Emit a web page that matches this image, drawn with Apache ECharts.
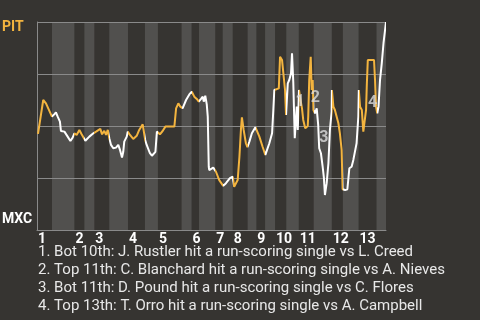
<!DOCTYPE html>
<html>
<head>
<meta charset="utf-8">
<script src="https://cdn.jsdelivr.net/npm/echarts@6/dist/echarts.min.js"></script>
<style>html,body{margin:0;padding:0;background:#363431;}#c{width:480px;height:320px;}</style>
</head>
<body>
<div id="c"></div>
<script>
// Half-inning boundaries, in game-event units (top half = PIT batting, bottom half = MXC batting)
const halfInningBounds = [0,6,15,19,23,29,36.5,43.3,48.5,58,62,65,71.5,74.5,78.5,84.5,88,91.5,95.5,100,105,111,118.25,122.7,129,136.2,140];
const inningLabels = ['1','2','3','4','5','6','7','8','9','10','11','12','13'];
// PIT win probability (%) by game event
const eventX = [0.4,2.5,3.6,6.0,6.9,7.6,8.3,9.2,9.6,11.0,12.3,13.4,14.3,15.0,15.9,17.0,17.9,19.4,21.0,22.6,23.7,24.4,25.4,26.1,27.0,27.7,28.4,29.0,29.7,30.6,31.7,32.6,33.3,34.1,34.6,35.0,36.0,36.4,37.3,38.6,40.0,41.0,42.4,43.4,44.0,45.3,46.1,47.5,48.1,48.6,49.3,50.4,51.5,55.1,55.8,56.7,57.5,58.4,59.8,61.1,62.1,63.1,64.1,64.9,65.8,66.5,66.9,67.5,68.1,68.5,68.9,69.1,70.7,71.8,73.1,74.7,75.8,77.4,78.5,79.1,79.8,80.5,81.2,81.8,82.2,82.9,83.8,84.4,85.2,86.2,87.6,88.1,89.2,90.5,91.6,92.1,93.2,94.3,94.8,95.2,95.9,97.0,97.5,98.3,98.8,99.5,99.9,100.2,100.6,101.2,101.9,102.3,102.8,103.4,103.9,104.2,104.6,104.8,105.1,105.6,106.3,106.8,107.6,108.6,108.8,109.2,109.8,110.2,110.6,110.9,111.5,112.2,112.8,113.2,113.9,114.6,115.1,115.5,116.2,116.9,117.5,118.2,118.3,118.9,119.5,120.2,120.9,121.5,122.2,122.6,123.6,124.5,125.3,126.2,126.9,127.6,128.2,128.9,129.1,129.6,130.3,130.9,131.6,132.0,132.3,132.7,135.2,135.6,136.0,136.5,137.0,137.6,138.3,139.0,140];
const pitWinProb = [46.2,62.5,60.9,54.5,55.6,56.6,54.5,52.1,47.6,47.3,44.9,42.8,44.4,46.5,45.7,48.1,46.0,42.9,44.9,46.5,47.3,47.7,48.6,46.0,47.7,45.7,48.1,44.1,40.9,39.3,39.6,40.9,38.5,34.8,37.6,42.5,44.9,47.3,45.7,43.8,45.3,48.1,50.8,43.3,40.9,36.9,35.7,37.6,47.3,47.6,46.0,47.6,49.7,49.7,58.5,60.9,59.3,58.5,62.5,65.2,66.5,64.1,63.0,61.7,63.0,64.1,61.7,64.6,60.4,54.5,30.4,28.8,30.0,28.0,24.0,21.2,22.5,24.9,25.6,20.8,20.0,24.0,35.2,48.1,54.2,48.1,41.7,39.8,42.5,46.5,49.4,49.7,44.9,40.0,36.1,36.9,41.7,46.5,57.7,67.3,67.6,68.1,83.3,81.7,82.1,67.3,55.3,55.3,70.5,72.1,75.3,85.0,71.3,44.1,44.9,59.3,48.1,55.3,67.3,63.3,58.5,52.9,48.9,50.0,54.5,72.1,83.3,67.3,72.1,57.7,56.1,58.5,50.5,39.3,36.9,30.4,24.9,16.8,22.5,32.1,48.1,56.9,67.3,59.3,57.7,58.0,51.3,46.5,38.5,19.6,19.2,19.6,29.7,30.4,33.7,32.8,41.7,54.5,67.3,59.3,57.7,47.3,46.8,57.7,69.7,81.7,81.7,72.1,59.3,56.1,59.3,72.1,80.1,89.8,100];
const noteX = [105.5,111.7,115.1,134.6];
const noteY = [61.7,63.7,44.2,61.1];
const noteLabels = ['1','2','3','4'];
const events = [
  '1. Bot 10th: J. Rustler hit a run-scoring single vs L. Creed',
  '2. Top 11th: C. Blanchard hit a run-scoring single vs A. Nieves',
  '3. Bot 11th: D. Pound hit a run-scoring single vs C. Flores',
  '4. Top 13th: T. Orro hit a run-scoring single vs A. Campbell'
];
const teamTop = 'PIT', teamBottom = 'MXC';

const ORANGE = '#f3b43f', WHITE = '#ffffff';
const pieces = [];
const bands = [];
for (let i = 0; i < halfInningBounds.length - 1; i++) {
  const p = {gte: halfInningBounds[i], color: i % 2 === 0 ? ORANGE : WHITE};
  if (i < halfInningBounds.length - 2) p.lt = halfInningBounds[i+1]; else p.lte = halfInningBounds[i+1];
  pieces.push(p);
  if (i % 2 === 1) bands.push([{xAxis: halfInningBounds[i]}, {xAxis: halfInningBounds[i+1]}]);
}
const inningStarts = inningLabels.map((_, i) => halfInningBounds[2*i]);
const lineData = eventX.map((x, i) => [x, pitWinProb[i]]);
const noteData = noteX.map((x, i) => ({value: [x, noteY[i]], label: {formatter: noteLabels[i]}}));

const chart = echarts.init(document.getElementById('c'), null, {renderer: 'canvas'});
chart.setOption({
  backgroundColor: '#363431',
  animation: false,
  textStyle: {fontFamily: 'Roboto'},
  grid: {left: 37, right: 94, top: 22, bottom: 90},
  xAxis: {
    type: 'value', min: 0, max: 140,
    axisLine: {show: true, lineStyle: {color: '#8a8a8a', width: 1}},
    axisTick: {show: false},
    splitLine: {show: false},
    axisLabel: {
      customValues: inningStarts,
      formatter: v => inningLabels[inningStarts.indexOf(v)] || '',
      color: '#ffffff', fontWeight: 'bold', fontSize: 14, fontFamily: 'Roboto',
      align: 'left', margin: 2, padding: [0,0,0,1]
    }
  },
  yAxis: {
    type: 'value', min: 0, max: 100, interval: 25, z: 2,
    axisLine: {show: true, lineStyle: {color: '#8a8a8a', width: 1}},
    axisTick: {show: false},
    axisLabel: {show: false},
    splitLine: {show: true, lineStyle: {color: '#8a8a8a', width: 1}}
  },
  visualMap: {type: 'piecewise', show: false, dimension: 0, seriesIndex: 1, pieces: pieces},
  series: [
    {
      type: 'line', data: [], z: 1, silent: true,
      markArea: {silent: true, itemStyle: {color: '#51504e'}, data: bands}
    },
    {
      type: 'line', data: lineData, z: 3, showSymbol: false, symbol: 'none',
      lineStyle: {width: 2}
    },
    {
      type: 'scatter', data: noteData, z: 4, symbolSize: 1, itemStyle: {color: 'rgba(0,0,0,0)'},
      label: {show: true, position: 'inside', color: '#dcdcdc', fontSize: 16, fontWeight: 'bold', fontFamily: 'Roboto'}
    }
  ],
  graphic: [
    {type: 'text', left: 2, top: 20, style: {text: teamTop, fill: ORANGE, font: 'bold 14px Roboto'}},
    {type: 'text', left: 2, top: 212, style: {text: teamBottom, fill: '#ffffff', font: 'bold 14px Roboto'}},
    {type: 'text', left: 38, top: 243, style: {text: events.join('\n'), fill: '#e8e8e8', font: '15px Roboto', lineHeight: 18}}
  ]
});
</script>
</body>
</html>
